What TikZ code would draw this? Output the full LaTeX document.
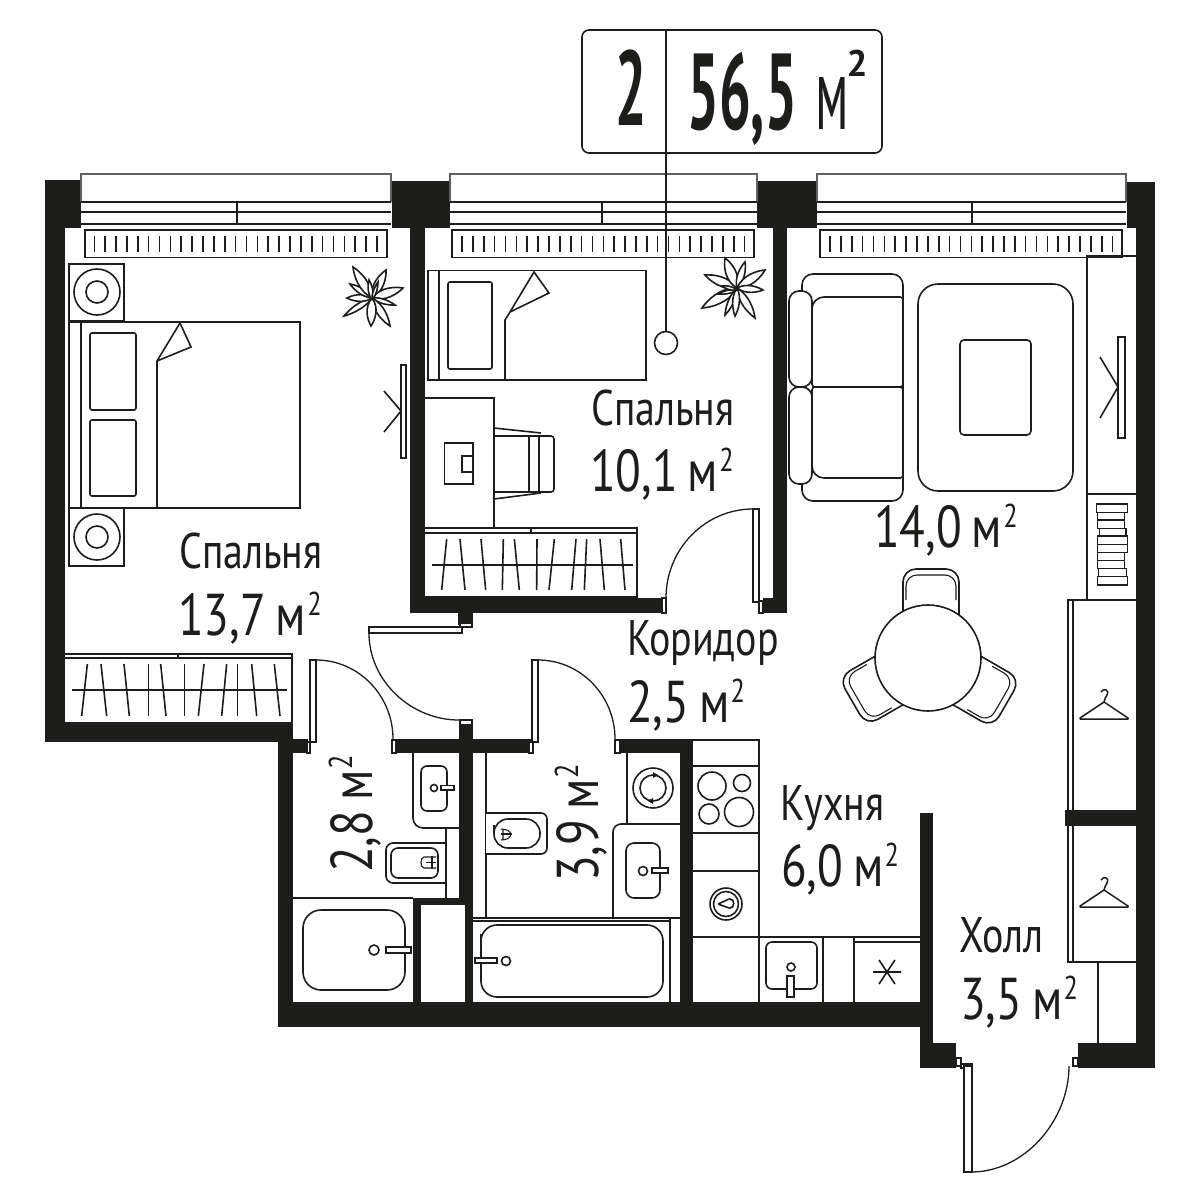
\documentclass[tikz,border=0pt]{standalone}
\usepackage{fontspec}
\usetikzlibrary{calc}
\setmainfont{PT Sans}
\newfontfamily\lab[FakeStretch=.8]{PT Sans}
\newfontfamily\hdb[FakeStretch=.52]{PT Sans Bold}
\newfontfamily\hdr[FakeStretch=.5]{PT Sans}
\newfontfamily\hds{PT Sans Bold}
\definecolor{ink}{HTML}{1D1D1B}
\newcommand\W[4]{\fill[ink] (#1,#2) rectangle (#3,#4);}
\newcommand\Fr[4]{\draw[thin line,fill=white] (#1,#2) rectangle (#3,#4);}
\newcommand\Sq{\raisebox{20pt}{\fontsize{33}{33}\selectfont 2}}
\newcommand\Word[1]{{\lab\fontsize{50}{50}\selectfont #1}}
\newcommand\Area[1]{{\lab\fontsize{59}{59}\selectfont #1\,м\kern1pt\Sq}}
\newcommand\Petal[5]{\draw[line,fill=white] (#1,#2) .. controls ($(#1,#2)!.35!(#3,#4)!#5pt!90:(#3,#4)$) and ($(#1,#2)!.8!(#3,#4)!#5*.45pt!90:(#3,#4)$) .. (#3,#4) .. controls ($(#1,#2)!.8!(#3,#4)!#5*.45pt!-90:(#3,#4)$) and ($(#1,#2)!.35!(#3,#4)!#5pt!-90:(#3,#4)$) .. (#1,#2);}
\newcommand\Hanger[2]{\draw[line,line width=1.5pt,line join=round] (#1-3,#2-27) .. controls (#1-1,#2-31) and (#1+6,#2-30) .. (#1+3,#2-24) .. controls (#1+2,#2-21) and (#1,#2-20) .. (#1,#2-17) -- (#1+24,#2-1) -- (#1+24,#2) -- (#1-24,#2) -- (#1-24,#2-1) -- (#1,#2-17);}
\tikzset{
  line/.style={draw=ink,line width=1.6pt},
  thin line/.style={draw=ink,line width=1.1pt},
  txt/.style={inner sep=0pt,anchor=base west,text=ink},
  fit1/.style={line,rounded corners=5pt,fill=white}
}
\begin{document}
\begin{tikzpicture}[x=1pt,y=-1pt]
\useasboundingbox (0,0) rectangle (1200,1200);
\fill[white] (0,0) rectangle (1200,1200);
% ---- walls ----
\W{45}{180}{81}{228}\W{45}{228}{65}{742}\W{45}{722}{293}{742}
\W{392}{181}{450}{228}\W{410}{228}{425}{613}\W{410}{598}{662}{613}
\W{757}{181}{817}{228}\W{773}{228}{787}{613}\W{763}{598}{787}{613}
\W{1127}{182}{1155}{228}\W{1136}{228}{1155}{1068}\W{1078}{1043}{1155}{1068}
\W{1065}{810}{1136}{826}
\W{920}{813}{933}{1068}\W{278}{1002}{933}{1027}\W{923}{1027}{933}{1068}\W{923}{1043}{956}{1068}
\W{278}{739}{293}{1027}\W{278}{739}{308}{753}
\W{393}{739}{532}{753}\W{617}{739}{693}{753}
\W{459}{720}{473}{1002}\W{458}{613}{473}{625}
\W{680}{739}{693}{1002}
\W{413}{898}{473}{905}\W{413}{898}{421}{1002}
\fill[white] (421,905) rectangle (465,1002);
% ---- windows ----
\foreach \a/\b/\m in {81/391/237,450/757/602,817/1126/972}{
  \draw[thin line,draw=ink!70] (\a,202) -- (\a,174) -- (\b,174) -- (\b,202);
  \foreach \y in {202,212,224} \draw[line] (\a,\y) -- (\b,\y);
  \draw[line] (\m,202) -- (\m,224);
}
% ---- radiators ----
\foreach \a/\b/\s in {85/387/94.3,452/754/462,820/1122/830}{
  \draw[line] (\a,230) rectangle (\b,257.5);
  \foreach \i in {0,...,26} \draw[line] ({\s+\i*10.87},236) -- ({\s+\i*10.87},252);
}
% ---- bedroom 1 ----
\draw[line] (69,264) rectangle (124,321);
\draw[line] (69,508) rectangle (124,566);
\foreach \y in {292,537}{\draw[line] (97,\y) circle[radius=23pt]; \draw[line] (97,\y) circle[radius=11pt];}
\draw[line,fill=white] (69,322) rectangle (300,508);
\draw[thin line] (81,322) -- (81,508);
\draw[fit1,rounded corners=2pt] (90,333) rectangle (136,410);
\draw[fit1,rounded corners=2pt] (90,420) rectangle (136,496);
\draw[line] (157,508) -- (157,361) -- (180,323) -- (191,347) -- (157,361);
\draw[thin line,fill=white] (401,365) rectangle (406,458);
\draw[line] (384,391) -- (401,411) -- (384,432);
\foreach \tx/\ty/\w in {344/316/5,347/298/6,350/284/5,353/267/8,386/270/8,403/288/8,395/305/4,390/326/7,371/326/8}
  {\Petal{372}{298}{\tx}{\ty}{\w}}
\Petal{372}{300}{369}{280}{4}
\Petal{372}{300}{378}{282}{3}
% wardrobe 1
\draw[line] (65,654) -- (292,654) -- (292,722);
\draw[line] (65,658) -- (292,658);
\draw[thin line] (178,654) -- (178,658);
\draw[line] (72,690) -- (287,690);
\foreach \p/\q in {172/155,213/230,282/298,355/355,392/408,463/463,522/505,590/575,622/622,665/680,733/750}
  \draw[line] ({30+\p/3},664) -- ({30+\q/3},716);
% ---- bedroom 2 ----
\draw[line] (428,270.5) rectangle (646,380);
\draw[line] (439,270.5) -- (439,380);
\draw[fit1,rounded corners=2pt] (448,282) rectangle (492,369);
\draw[line] (505,380) -- (505,320) -- (510,312) -- (534,272) -- (549,293) -- (510,312);
\draw[line] (425,398) -- (494,398) -- (494,528);
\draw[line] (444.5,443) rectangle (473,484);
\draw[line] (462,456) rectangle (473,472);
\draw[line] (494,428) -- (541,433) (494,499) -- (541,493);
\draw[line] (494,436) -- (529,436) -- (529,492) -- (494,492);
\draw[line,rounded corners=3pt] (529,436) -- (554,436) -- (554,492) -- (529,492);
\draw[line] (539,436) -- (539,492);
\draw[line] (425,528) -- (637,528) -- (637,597) -- (425,597);
\draw[line] (425,533) -- (637,533);
\draw[thin line] (531,528) -- (531,533);
\draw[line] (432,565) -- (633,565);
\foreach \p/\q in {140/125,180/195,243/257,310/307,343/358,411/410,463/447,528/515,560/553,600/613,662/675}
  \draw[line] ({400+\p/3},539) -- ({400+\q/3},590);
\foreach \tx/\ty/\w in {702/308/9,705/275/8,725/315/5,725/258/9,745/262/6,765/270/8,763/290/6,755/318/7,735/316/6}
  {\Petal{737}{288}{\tx}{\ty}{\w}}
\Petal{737}{290}{718}{294}{3}
\Petal{737}{290}{722}{286}{3}
% ---- living ----
\draw[fit1,rounded corners=11pt] (802,274) rectangle (903,501);
\draw[fit1,rounded corners=10pt] (789,291) rectangle (812,387);
\draw[fit1,rounded corners=10pt] (789,387) rectangle (812,484);
\draw[line,fill=white,rounded corners=3pt] (903,387) -- (812,387) [rounded corners=12pt] -- (812,297) [rounded corners=3pt] -- (903,297) -- cycle;
\draw[line,fill=white,rounded corners=3pt] (903,387) -- (812,387) [rounded corners=12pt] -- (812,478) [rounded corners=3pt] -- (903,478) -- cycle;
\draw[fit1,rounded corners=20pt] (918,284) rectangle (1073,491);
\draw[fit1,rounded corners=4pt] (960,340) rectangle (1031,435);
\draw[line] (1087,600) -- (1087,256) -- (1136,256);
\draw[line] (1087,494) -- (1136,494);
\draw[thin line,fill=white] (1118,337) rectangle (1125,438);
\draw[line] (1100,357) -- (1118,387) -- (1100,418);
\foreach \a/\b/\c/\d in {72/97/110/202,97/120/112/194,120/145/112/194,145/168/118/198,168/193/112/202,193/218/112/202,218/242/112/194,242/265/112/194,265/290/115/200,290/315/112/202}
  \draw[line,line width=1.4pt] ({1060+\c/3},{480+\a/3}) rectangle ({1060+\d/3},{480+\b/3});
% dining
\foreach \r in {0,120,240}{
  \begin{scope}[rotate around={\r:(930,658)}]
  \draw[line,fill=white,rounded corners=13pt] (903,630) -- (903,569) -- (959,569) -- (959,630);
  \draw[thin line,rounded corners=11pt] (906,600) -- (906,575) -- (956,575) -- (956,600);
  \end{scope}
}
\draw[line,fill=white] (928,658) circle[radius=53pt];
% closets
\draw[line] (1136,600) -- (1068,600) -- (1068,810);
\draw[line] (1073,600) -- (1073,810);
\draw[line] (1068,826) -- (1068,962) -- (1136,962);
\draw[line] (1073,826) -- (1073,962);
\draw[line] (1098,962) -- (1098,1043);
\Hanger{1104}{719}
\Hanger{1104}{907}
% ---- door frames and leaves ----
\Fr{307}{742}{310}{753}\Fr{392}{740}{396}{753}
\Fr{529}{742}{533}{753}\Fr{615}{740}{620}{753}
\Fr{460}{623}{472}{627}\Fr{460}{720}{472}{725}
\Fr{662}{598}{666}{613}\Fr{759}{601}{763}{613}
\Fr{956}{1058}{961}{1066}\Fr{961}{1064}{972}{1068}\Fr{1073}{1058}{1078}{1066}
\draw[thin line,fill=white] (310,660) rectangle (316,742);
\draw[thin line,fill=white] (532,660) rectangle (538,742);
\draw[thin line,fill=white] (369,627) rectangle (462,633);
\draw[thin line,fill=white] (753,509) rectangle (759,602);
\draw[thin line,fill=white] (964,1066) rectangle (972,1172);
\draw[line,line width=1.3pt] (316,660) .. controls (359,660) and (393,696) .. (393,739);
\draw[line,line width=1.3pt] (538,660) .. controls (581,660) and (615,696) .. (615,739);
\draw[line,line width=1.3pt] (369,633) .. controls (369,681) and (411,720) .. (459,720);
\draw[line,line width=1.3pt] (753,509) .. controls (705,509) and (666,549) .. (666,598);
\draw[line,line width=1.3pt] (971,1172) .. controls (1025,1172) and (1069,1120) .. (1069,1066);
% ---- bathroom 1 ----
\draw[line] (293,898) -- (413,898);
\draw[fit1,rounded corners=18pt] (303,910) rectangle (405,990);
\draw[line] (374,950) circle[radius=5pt];
\draw[line,fill=white] (386,947) rectangle (411,953);
\draw[line,rounded corners=10pt] (413,753) -- (413,828) -- (459,828);
\draw[fit1,rounded corners=6pt] (421,766) rectangle (447,811);
\draw[line] (434,788) circle[radius=3.5pt];
\draw[thin line,fill=white] (441,785.5) rectangle (454,790);
\draw[line] (446,828) -- (446,898);
\draw[line,rounded corners=7pt] (446,843) -- (386,843) -- (386,883) -- (446,883);
\draw[line,rounded corners=7pt] (391,863) -- (391,848) -- (438,848) -- (438,878) -- (391,878) -- cycle;
\draw[thin line,rounded corners=2pt] (436,857) -- (426,857) .. controls (420,857) and (420,868) .. (426,868) -- (436,868);
\draw[thin line] (432,856) -- (432,869) (426,862.5) -- (436,862.5);
% ---- bathroom 2 ----
\draw[line] (486,753) -- (486,918);
\draw[line,fill=white,rounded corners=6pt] (486,813) -- (547,813) -- (547,854) -- (486,854);
\draw[line,rounded corners=14pt] (494,825) -- (494,819) -- (540,819) -- (540,848) -- (494,848) -- (494,825);
\draw[thin line] (503,829) -- (503,840) (501,829) .. controls (514,829) and (514,840) .. (501,840);
\draw[thin line] (501,834) -- (512,834);
\draw[line] (627,753) -- (627,824);
\draw[line,rounded corners=8pt] (613,918) -- (613,824) -- (680,824);
\draw[fit1,rounded corners=8pt] (626,843) rectangle (660,898);
\draw[line] (643,871) circle[radius=4.5pt];
\draw[thin line,fill=white] (652,868) rectangle (668,873);
\draw[line] (653,788) circle[radius=20pt];
\draw[line] (653,788) circle[radius=13pt];
\fill[ink] (653,772) -- (658,775) -- (653,778) -- cycle;
\fill[ink] (653,798) -- (648,801) -- (653,804) -- cycle;
\draw[line] (473,918) -- (680,918) (473,921) -- (670,921);
\draw[line] (670,918) -- (670,1002);
\draw[line,rounded corners=16pt] (481,950) -- (481,925) -- (663,925) -- (663,997) -- (481,997) -- cycle;
\draw[line] (506,961) circle[radius=4.5pt];
\draw[thin line,fill=white] (475,958) rectangle (497,963);
% ---- kitchen ----
\draw[line] (693,740) -- (759,740) -- (759,1002);
\foreach \y in {766,833,871,937} \draw[line] (693,\y) -- (759,\y);
\foreach \x/\y/\r in {712/786/14,742/783/8.5,709/814/10,739/812/14.5} \draw[line] (\x,\y) circle[radius=\r pt];
\draw[line] (726,904) circle[radius=16pt];
\draw[line] (726,904) circle[radius=12.5pt];
\draw[line,rounded corners=1pt] (718,904) -- (729,899) .. controls (735,899) and (735,908) .. (729,908) -- cycle;
\draw[line] (759,937) -- (920,937);
\draw[line] (854,942) -- (920,942);
\draw[line] (823,937) -- (823,1002) (854,937) -- (854,1002);
\draw[fit1,rounded corners=6pt] (766,942) rectangle (817,989);
\draw[line] (791,967) circle[radius=4pt];
\draw[thin line,fill=white] (787,976) rectangle (794,997);
\draw[line] (873,972) -- (901,972) (879,960) -- (895,984) (895,960) -- (879,984);
% ---- labels ----
\node[txt] (t1a) at (179,568) {\Word{Спальня}};
\node[txt] (t1b) at (178,635) {\Area{13,7}};
\node[txt] (t2a) at (591,425) {\Word{Спальня}};
\node[txt] (t2b) at (590,491) {\Area{10,1}};
\node[txt] (t3) at (874,547) {\Area{14,0}};
\node[txt] (t4a) at (627,655) {\Word{Коридор}};
\node[txt] (t4b) at (627,722) {\Area{2,5}};
\node[txt] (t5a) at (780,820) {\Word{Кухня}};
\node[txt] (t5b) at (781,886) {\Area{6,0}};
\node[txt] (t6a) at (959,952) {\Word{Холл}};
\node[txt] (t6b) at (960,1019) {\Area{3,5}};
\node[txt,rotate=90] (t7) at (372,873) {\Area{2,8}};
\node[txt,rotate=90] (t8) at (598,882) {\Area{3,9}};
% ---- header ----
\node[draw=ink,line width=1.6pt,rounded corners=7pt,minimum width=300pt,minimum height=123pt,inner sep=0pt,fill=white] (head) at (732,91.5) {};
\node[draw=ink,line width=1.6pt,circle,minimum size=23pt,inner sep=0pt,fill=white] (pin) at (666,343) {};
\coordinate (headtop) at (666,30);
\draw[line] (headtop) -- (pin.north);
\node[txt] (hn) at (615,125) {\hdb\fontsize{106}{106}\selectfont 2};
\node[txt] (ha) at (687,129) {\hdb\fontsize{108}{108}\selectfont 56,5};
\node[txt] (hm) at (815,129) {\hdr\fontsize{104}{104}\selectfont м\kern-2pt\raisebox{53pt}{\hds\fontsize{37}{37}\selectfont 2}};
\end{tikzpicture}
\end{document}
